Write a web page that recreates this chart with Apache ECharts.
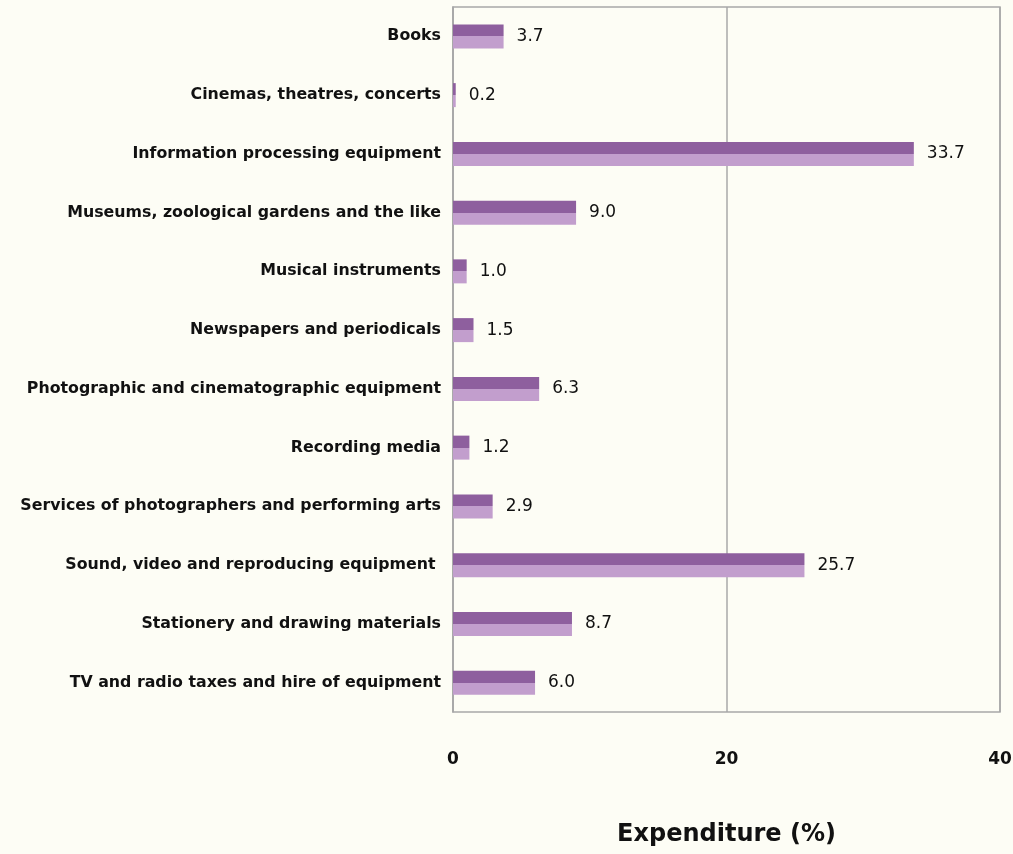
<!DOCTYPE html>
<html><head><meta charset="utf-8">
<script src="https://cdn.jsdelivr.net/npm/echarts@6/dist/echarts.min.js"></script>
<style>html,body{margin:0;padding:0;background:#fdfdf5;}#c{width:1013px;height:854px;}</style>
</head><body><div id="c"></div>
<script>
const categories = ["Books","Cinemas, theatres, concerts","Information processing equipment","Museums, zoological gardens and the like","Musical instruments","Newspapers and periodicals","Photographic and cinematographic equipment","Recording media","Services of photographers and performing arts","Sound, video and reproducing equipment ","Stationery and drawing materials","TV and radio taxes and hire of equipment"];
const values = [3.7,0.2,33.7,9.0,1.0,1.5,6.3,1.2,2.9,25.7,8.7,6.0];
const xTicks = [0,20,40];
const chart = echarts.init(document.getElementById('c'));
chart.setOption({
  backgroundColor:'#fdfdf5',
  animation:false,
  grid:{left:453,right:13,top:7,bottom:142,show:true,borderColor:'#a8a8a8',borderWidth:1.5,backgroundColor:'transparent',
    containLabel:false,outerBoundsMode:'none'},
  xAxis:{type:'value',min:0,max:40,interval:20,
    name:'Expenditure (%)',nameLocation:'middle',nameGap:111,
    nameTextStyle:{fontFamily:'DejaVu Sans',fontWeight:'bold',fontSize:24,color:'#111'},
    axisLine:{show:false},axisTick:{show:false},
    axisLabel:{margin:39,fontFamily:'DejaVu Sans',fontWeight:'bold',fontSize:17,color:'#111',
      formatter:v=>xTicks.includes(v)?String(v):''},
    splitLine:{show:true,lineStyle:{color:'#a8a8a8',width:1.5}}},
  yAxis:{type:'category',data:categories,inverse:true,
    axisLine:{show:true,lineStyle:{color:'#a8a8a8',width:1.5}},axisTick:{show:false},
    axisLabel:{margin:12,fontFamily:'DejaVu Sans',fontWeight:'bold',fontSize:15.8,color:'#111'},
    splitLine:{show:false}},
  series:[{type:'bar',data:values,barWidth:24,
    itemStyle:{color:new echarts.graphic.LinearGradient(0,0,0,1,[
      {offset:0,color:'#8e5f9e'},{offset:0.5,color:'#8e5f9e'},
      {offset:0.5,color:'#c29ecd'},{offset:1,color:'#c29ecd'}])},
    label:{show:true,position:'right',distance:13,fontFamily:'DejaVu Sans',fontSize:17,color:'#111',
      formatter:p=>p.value.toFixed(1)}}]
});
</script></body></html>
